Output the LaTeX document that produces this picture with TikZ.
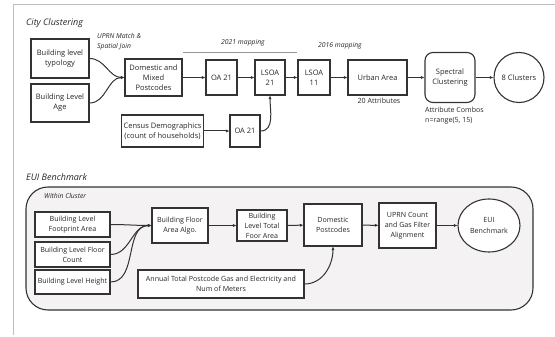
\documentclass[tikz,border=0pt]{standalone}
\usepackage{fontspec}
\setmainfont{Open Sans}
\usetikzlibrary{arrows.meta,shapes.geometric}
\definecolor{lc}{HTML}{333333}
\definecolor{tc}{HTML}{262626}
\definecolor{fr}{HTML}{BDBDBD}
\definecolor{bgc}{HTML}{F4F2F3}
\begin{document}
\begin{tikzpicture}[x=1pt,y=-1pt,
  every node/.style={text=tc},
  bigtxt/.style={font=\fontsize{7.5}{10}\selectfont},
  smtxt/.style={font=\fontsize{7.1}{10}\selectfont},
  box/.style={draw=lc, line width=1.1pt, align=center, inner sep=0pt, fill=white},
  ttl/.style={font=\fontsize{9}{10}\selectfont\itshape, anchor=west, inner sep=0pt},
  lbl/.style={font=\fontsize{6.8}{10}\selectfont\itshape, inner sep=0pt},
  arr/.style={draw=lc, line width=1pt, -{Latex[length=3.5pt,width=3.2pt]}}
]
\useasboundingbox (0,0) rectangle (555,337);
% frame
\draw[fr, line width=0.9pt] (13,335) -- (13,4) -- (555,4);

% ---- City Clustering ----
\node[ttl] (t1) at (26,23) {City Clustering};
\node[box,bigtxt,minimum width=58,minimum height=39] (typ) at (60,58.5) {Building level\\typology};
\node[box,bigtxt,minimum width=58,minimum height=38] (age) at (60,103) {Building Level\\Age};
\node[box,bigtxt,minimum width=57,minimum height=37] (dom) at (153.5,77.5) {Domestic and\\Mixed\\Postcodes};
\node[box,bigtxt,minimum width=31,minimum height=35] (oa1) at (221.5,77.5) {OA 21};
\node[box,bigtxt,minimum width=30,minimum height=35] (ls21) at (270,77.5) {LSOA\\21};
\node[box,bigtxt,minimum width=32,minimum height=35] (ls11) at (314,77.5) {LSOA\\11};
\node[box,bigtxt,minimum width=59,minimum height=35] (urb) at (377.5,77.5) {Urban Area};
\node[box,bigtxt,minimum width=50,minimum height=50,rounded corners=8pt] (spec) at (450,77.5) {Spectral\\Clustering};
\node[box,bigtxt,circle,minimum size=50] (clu) at (519,77.5) {8 Clusters};
\node[box,bigtxt,minimum width=82,minimum height=32] (cen) at (162.5,131) {Census Demographics\\(count of households)};
\node[box,bigtxt,minimum width=30,minimum height=32] (oa2) at (245,131) {OA 21};

\node[lbl,align=left,anchor=north west] (uprn) at (97,33) {UPRN Match \&\\Spatial Join};
\node[lbl] (m21) at (243,43) {2021 mapping};
\node[lbl] (m16) at (340,46) {2016 mapping};
\coordinate (ml) at (183,52);
\coordinate (mr) at (297,52);
\draw[fr!80!black, line width=0.6pt] (ml) -- (mr);
\node[smtxt,inner sep=0pt] (attr) at (379,101) {20 Attributes};
\node[smtxt,inner sep=0pt,align=left,anchor=north west] (combo) at (425,107) {Attribute Combos\\n=range(5, 15)};

\draw[arr] (typ.east) to[out=0,in=180] (dom.west);
\draw[arr] (age.east) to[out=0,in=180] (dom.west);
\draw[arr] (dom) -- (oa1);
\draw[arr] (oa1) -- (ls21);
\draw[arr] (ls21) -- (ls11);
\draw[arr] (ls11) -- (urb);
\draw[arr] (urb) -- (spec);
\draw[arr] (spec) -- (clu);
\draw[arr] (cen) -- (oa2);
\draw[arr] (oa2.east) to[out=0,in=-90] (ls21.south);

% ---- EUI Benchmark ----
\node[ttl] (t2) at (26,177) {EUI Benchmark};
\draw[draw=lc, line width=1.1pt, fill=bgc, rounded corners=22pt] (26,187) rectangle (533,310);
\node[lbl,anchor=west] (wc) at (44,196) {Within Cluster};
\node[box,smtxt,minimum width=75,minimum height=25] (fp) at (72.5,224.5) {Building Level\\Footprint Area};
\node[box,smtxt,minimum width=75,minimum height=25] (fc) at (72.5,254.5) {Building Level Floor\\Count};
\node[box,smtxt,minimum width=75,minimum height=24] (ht) at (72.5,282) {Building Level Height};
\node[box,smtxt,minimum width=56,minimum height=35] (alg) at (180,225.5) {Building Floor\\Area Algo.};
\node[box,smtxt,minimum width=50,minimum height=31] (tot) at (262,225.5) {Building\\Level Total\\Foor Area};
\node[box,smtxt,minimum width=166,minimum height=28] (ann) at (221,284) {Annual Total Postcode Gas and Electricity and\\Num of Meters};
\node[box,smtxt,minimum width=58,minimum height=42] (dpc) at (333,225) {Domestic\\Postcodes};
\node[box,smtxt,minimum width=57,minimum height=45] (upc) at (407.5,225.5) {UPRN Count\\and Gas Filter\\Alignment};
\node[box,smtxt,ellipse,minimum width=62,minimum height=53] (eui) at (489,225.5) {EUI\\Benchmark};

\draw[arr] (fp.east) to[out=0,in=180] (alg.west);
\draw[arr] (fc.east) to[out=0,in=180] (alg.west);
\draw[arr] (ht.east) to[out=0,in=180] (alg.west);
\draw[arr] (alg) -- (tot);
\draw[arr] (tot) -- (dpc);
\draw[arr] (dpc) -- (upc);
\draw[arr] (upc) -- (eui);
\draw[arr] (ann.east) to[out=0,in=-90] (dpc.south);
\end{tikzpicture}
\end{document}
